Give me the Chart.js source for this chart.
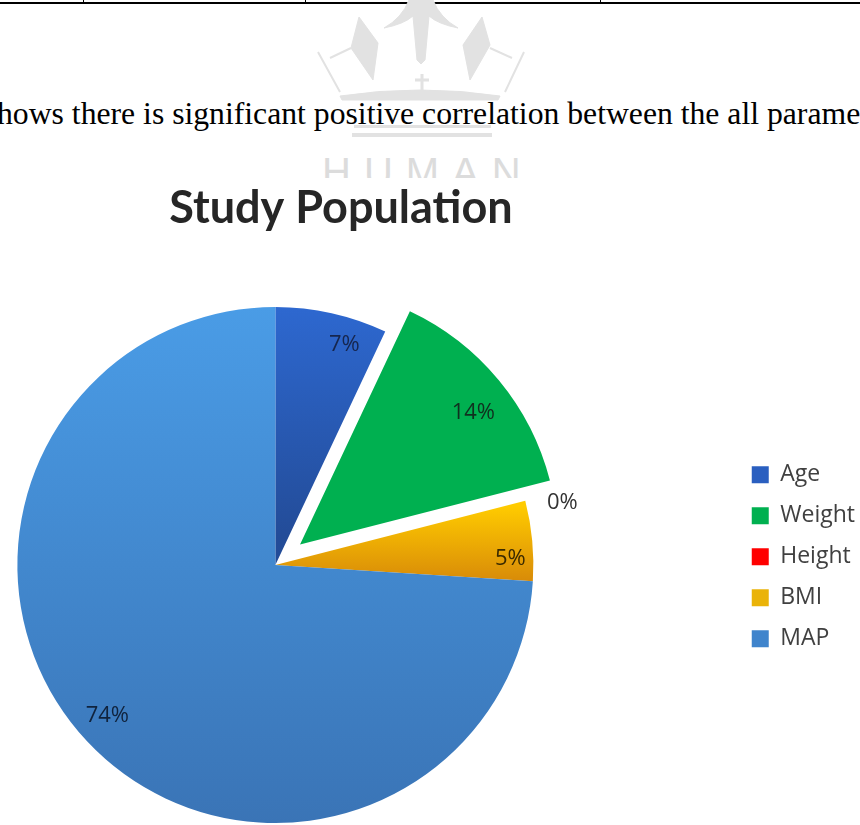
<!DOCTYPE html>
<html>
<head>
<meta charset="utf-8">
<title>Study Population</title>
<script src="https://cdn.jsdelivr.net/npm/chart.js@4"></script>
<style>
  html, body { margin: 0; padding: 0; background: #fff; }
  #page { position: relative; width: 860px; height: 825px; overflow: hidden; background: #fff; }
  #rule { position: absolute; left: 0; top: 2px; width: 860px; height: 2px; background: #000; }
  .tick { position: absolute; top: 0; width: 1px; height: 3px; background: #000; }
  #crown { position: absolute; left: 0; top: 0; }
  #mark { position: absolute; left: 322px; top: 150px; height: 40px; font: 40px "Liberation Sans"; letter-spacing: 13px; color: #dcdcdc; white-space: nowrap; }
  #line { position: absolute; left: -3px; top: 96px; font: 31.7px "Liberation Serif"; color: #000; white-space: nowrap; }
  #myChart { position: absolute; left: -183px; top: 178px; background: #fff; }
</style>
</head>
<body>
<div id="page">
  <div id="rule"></div>
  <div class="tick" style="left:83px"></div>
  <div class="tick" style="left:305px"></div>
  <div class="tick" style="left:600px"></div>
  <svg id="crown" width="860" height="150" fill="#e2e2e2" stroke="#e2e2e2">
    <path d="M409 0 L433 0 Q440 18 458 28 Q438 24 429 16 L425 60 L421 64 L417 60 L413 16 Q404 24 384 28 Q402 18 409 0 Z"/>
    <path d="M359 17 L378 43 L373 80 L351 48 Z"/>
    <path d="M482 17 L490 45 L470 80 L463 45 Z"/>
    <path d="M318 52 L340 92 M351 48 L330 58 M524 52 L505 92 M490 48 L512 58" fill="none" stroke-width="2"/>
    <path d="M422 74 L422 90 M415 80 L429 80" fill="none" stroke-width="3"/>
    <path d="M340 96 Q420 84 500 96 L498 100 L342 100 Z"/>
    <rect x="354" y="125" width="137" height="3" stroke="none"/>
    <rect x="352" y="133" width="140" height="4" stroke="none"/>
  </svg>
  <div id="mark">HUMAN</div>
  <div id="line">hows there is significant positive correlation between the all parame</div>
  <canvas id="myChart" width="1048" height="711"></canvas>
</div>
<script>
const labels = ["Age", "Weight", "Height", "BMI", "MAP"];
const values = [7, 14, 0, 5, 74];
const swatches = ["#2a5fc0", "#00b050", "#ff0000", "#eab308", "#3f84cc"];
const labelSpots = [[69, -220], [198, -152], [287, -62], [235, -6], [-168, 151]];
const labelColors = ["#16264e", "#10301f", "#333333", "#3a2a00", "#10233d"];
const EXPLODE_INDEX = 1;
const EXPLODE_DIST = 32;

function sliceFill(context) {
  const ctx = context.chart.ctx;
  const stops = {
    0: [95, 360, "#2f6cd8", "#234c98"],
    3: [328, 402, "#ffcb00", "#d98c08"],
    4: [128, 646, "#4a9ce6", "#3a74b6"],
  }[context.dataIndex];
  if (!stops) return swatches[context.dataIndex];
  const g = ctx.createLinearGradient(0, stops[0], 0, stops[1]);
  g.addColorStop(0, stops[2]);
  g.addColorStop(1, stops[3]);
  return g;
}

// pull one slice straight out along its bisector, arc radius stays the same
const explodeSlice = {
  id: "explodeSlice",
  afterDatasetsUpdate(chart) {
    const arc = chart.getDatasetMeta(0).data[EXPLODE_INDEX];
    const mid = (arc.startAngle + arc.endAngle) / 2;
    arc.x += Math.cos(mid) * EXPLODE_DIST;
    arc.y += Math.sin(mid) * EXPLODE_DIST;
  },
};

const sliceLabels = {
  id: "sliceLabels",
  afterDatasetsDraw(chart) {
    const meta = chart.getDatasetMeta(0);
    const c = chart.ctx;
    const cx = meta.data[0].x;
    const cy = meta.data[0].y;
    c.save();
    c.font = '22px "Open Sans"';
    c.textAlign = "center";
    c.textBaseline = "middle";
    values.forEach((v, i) => {
      c.fillStyle = labelColors[i];
      c.fillText(v + "%", cx + labelSpots[i][0], cy + labelSpots[i][1]);
    });
    c.restore();
  },
};

new Chart(document.getElementById("myChart"), {
  type: "pie",
  data: {
    labels,
    datasets: [
      {
        data: values,
        backgroundColor: sliceFill,
        borderWidth: 0,
        radius: 258,
      },
    ],
  },
  options: {
    responsive: false,
    animation: false,
    plugins: {
      tooltip: { enabled: false },
      title: {
        display: true,
        text: "Study Population",
        color: "#262626",
        font: { family: "Lato", size: 45, weight: "bold" },
        padding: { top: 3, bottom: 6 },
      },
      legend: {
        position: "right",
        maxWidth: 136,
        // empty title only pushes the rows down
        title: { display: true, text: "", padding: { top: 16, bottom: 16 } },
        labels: {
          boxWidth: 17,
          boxHeight: 17,
          padding: 18,
          color: "#404040",
          font: { family: "Open Sans", size: 23 },
          generateLabels(chart) {
            const items = Chart.overrides.pie.plugins.legend.labels.generateLabels(chart);
            items.forEach((item, i) => {
              item.fillStyle = swatches[i];
              item.lineWidth = 0;
            });
            return items;
          },
        },
      },
    },
  },
  plugins: [explodeSlice, sliceLabels],
});
</script>
</body>
</html>
